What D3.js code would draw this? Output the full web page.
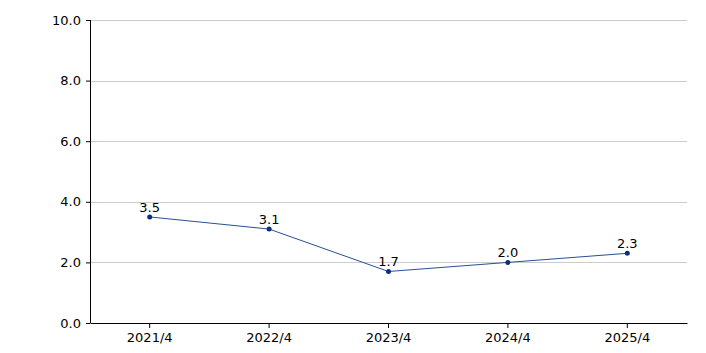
<!DOCTYPE html>
<html>
<head>
<meta charset="utf-8">
<script src="https://cdn.jsdelivr.net/npm/d3@7"></script>
<style>
body { margin: 0; background: #fff; }
text { font-family: "DejaVu Sans", Verdana, sans-serif; }
</style>
</head>
<body>
<svg id="chart" width="706" height="353"></svg>
<script>
// chart data
var categories = ["2021/4", "2022/4", "2023/4", "2024/4", "2025/4"];
var values = [3.5, 3.1, 1.7, 2.0, 2.3];
var yTicks = [0, 2, 4, 6, 8, 10];

var margin = {top: 20, right: 19, bottom: 30, left: 90},
    width = 706 - margin.left - margin.right,
    height = 353 - margin.top - margin.bottom;

var svg = d3.select("#chart");
var g = svg.append("g").attr("transform", "translate(" + margin.left + "," + margin.top + ")");

var x = d3.scaleBand().domain(categories).range([0, width]);
var y = d3.scaleLinear().domain([0, 10]).range([height, 0]);

// gridlines
g.selectAll(".grid")
    .data(yTicks.filter(function(d){ return d > 0; }))
    .enter()
    .append("line")
    .attr("x1", 0)
    .attr("x2", width)
    .attr("y1", function(d){ return Math.round(y(d)) + 0.5; })
    .attr("y2", function(d){ return Math.round(y(d)) + 0.5; })
    .attr("stroke", "#cccccc")
    .attr("stroke-width", 1);

// y axis
var yAxis = d3.axisLeft(y).tickValues(yTicks).tickSize(4).tickPadding(5)
    .tickFormat(d3.format(".1f"));
var gy = g.append("g").call(yAxis);
gy.select(".domain").attr("d", "M0.5," + height + "V0");
gy.selectAll("text").attr("font-size", 13).attr("fill", "#000")
    .style("font-family", "'DejaVu Sans', Verdana, sans-serif");
gy.selectAll("line").attr("stroke", "#000");

// x axis
var xAxis = d3.axisBottom(x).tickSize(5).tickPadding(5).tickSizeOuter(0);
var gx = g.append("g").attr("transform", "translate(0," + height + ")").call(xAxis);
gx.selectAll("text").attr("font-size", 13).attr("fill", "#000")
    .style("font-family", "'DejaVu Sans', Verdana, sans-serif");
gx.selectAll("line").attr("stroke", "#000");

// line
var line = d3.line()
    .x(function(d, i){ return x(categories[i]) + x.bandwidth() / 2; })
    .y(function(d){ return y(d); });

g.append("path")
    .datum(values)
    .attr("d", line)
    .attr("fill", "none")
    .attr("stroke", "#2a4f95")
    .attr("stroke-width", 1);

g.selectAll(".dot")
    .data(values)
    .enter()
    .append("circle")
    .attr("cx", function(d, i){ return x(categories[i]) + x.bandwidth() / 2; })
    .attr("cy", function(d){ return y(d); })
    .attr("r", 2.5)
    .attr("fill", "#0a2f80");

g.selectAll(".label")
    .data(values)
    .enter()
    .append("text")
    .attr("x", function(d, i){ return x(categories[i]) + x.bandwidth() / 2; })
    .attr("y", function(d){ return y(d) - 5; })
    .attr("text-anchor", "middle")
    .attr("font-size", 13)
    .attr("fill", "#000")
    .text(function(d){ return d.toFixed(1); });
</script>
</body>
</html>
